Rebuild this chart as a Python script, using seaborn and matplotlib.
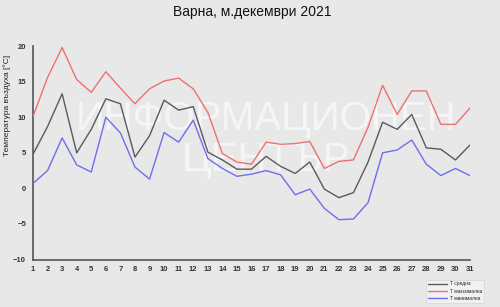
import matplotlib
matplotlib.use("Agg")
import matplotlib.pyplot as plt
import seaborn as sns
import pandas as pd

days = list(range(1, 32))
t_avg = [4.8, 8.7, 13.3, 5.0, 8.3, 12.6, 11.9, 4.4, 7.4, 12.4, 11.0, 11.5, 5.1, 4.0, 2.7, 2.7,
         4.5, 3.1, 2.1, 3.7, -0.1, -1.3, -0.6, 3.7, 9.3, 8.3, 10.4, 5.7, 5.5, 4.0, 6.1]
t_max = [10.1, 15.6, 19.8, 15.3, 13.5, 16.4, 14.1, 11.9, 14.0, 15.1, 15.5, 14.0, 10.7, 4.9, 3.7, 3.4,
         6.5, 6.2, 6.3, 6.6, 2.8, 3.8, 4.0, 8.6, 14.5, 10.4, 13.7, 13.7, 9.0, 9.0, 11.3]
t_min = [0.7, 2.5, 7.1, 3.3, 2.3, 10.0, 7.8, 3.0, 1.3, 7.85, 6.5, 9.6, 4.2, 2.8, 1.7, 2.0,
         2.5, 1.9, -0.9, -0.1, -2.8, -4.4, -4.3, -2.0, 5.0, 5.4, 6.8, 3.4, 1.8, 2.8, 1.8]
series_names = ["T средна", "T максимална", "T минимална"]
title = "Варна, м.декември 2021"
ylabel = "Температура въздуха [°C]"
watermark = "ИНФОРМАЦИОНЕН\nЦЕНТЪР"

df = pd.DataFrame({
    "day": days * 3,
    "temp": t_avg + t_max + t_min,
    "series": [series_names[0]] * 31 + [series_names[1]] * 31 + [series_names[2]] * 31,
})

bg = "#e8e8e8"
sns.set_style("white", {"axes.facecolor": bg, "figure.facecolor": bg})
plt.rcParams["font.family"] = ["Liberation Sans", "DejaVu Sans"]

fig = plt.figure(figsize=(5, 3.07), dpi=100)
ax = fig.add_axes([0.066, 0.1547, 0.874, 0.695])
ax.set_facecolor(bg)

palette = {series_names[0]: "#5a5a5a", series_names[1]: "#f07070", series_names[2]: "#6e6ef0"}
sns.lineplot(data=df, x="day", y="temp", hue="series", palette=palette, linewidth=1.0,
             ax=ax, legend=True, zorder=3)

ax.set_xlim(1, 31)
ax.set_ylim(-10, 20)
ax.set_xticks(days)
ax.set_yticks(range(-10, 21, 5))
for s in ["top", "right"]:
    ax.spines[s].set_visible(False)
for s in ["left", "bottom"]:
    ax.spines[s].set_color("#555555")
    ax.spines[s].set_linewidth(1.2)
ax.tick_params(axis="both", direction="out", length=3, width=0.8, color="#555555",
               labelsize=5.5, labelcolor="#333333", pad=2)
for lab in ax.get_xticklabels() + ax.get_yticklabels():
    lab.set_fontweight("bold")
ax.set_xlabel("")
ax.set_ylabel(ylabel, fontsize=6, color="#222222")
ax.yaxis.set_label_coords(-0.05, 0.72)

fig.text(0.504, 0.96, title, ha="center", va="center", fontsize=10, color="#111111")

ax.text(0.532, 0.545, watermark, ha="center", va="center", fontsize=29, color="white",
        alpha=0.6, linespacing=1.12, zorder=1, transform=fig.transFigure)

leg = ax.legend(loc="lower left", bbox_to_anchor=(424 / 500, 2 / 307), bbox_transform=fig.transFigure,
                fontsize=3.5, frameon=True, fancybox=False, handlelength=4, borderpad=0.3,
                labelspacing=0.5, handletextpad=0.6)
leg.get_frame().set_facecolor("#f4f4f4")
leg.get_frame().set_edgecolor("#cfcfcf")
leg.get_frame().set_linewidth(0.5)

fig.savefig("out.png", dpi=100, facecolor=bg)
